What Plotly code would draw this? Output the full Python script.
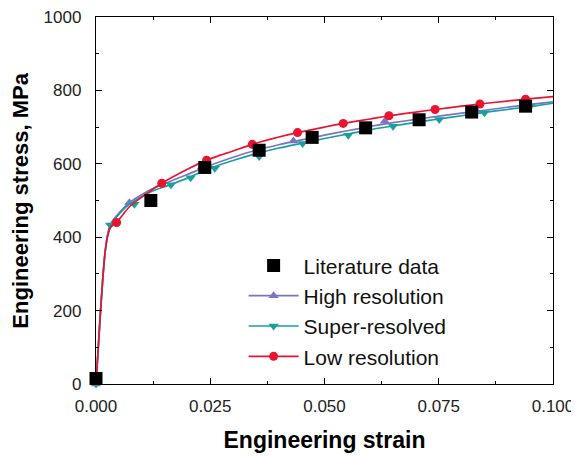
import plotly.graph_objects as go

# ---- data ----
lit_strain = [0.0, 0.012, 0.0238, 0.0357, 0.0473, 0.059, 0.0707, 0.0822, 0.094]
lit_stress = [15, 500, 590, 637, 672, 698, 720, 741, 757]

high_curve_strain = [0, 0.0005, 0.001, 0.0015, 0.002, 0.0026, 0.0032, 0.0045, 0.0073, 0.012, 0.016,
                     0.02, 0.025, 0.03, 0.035, 0.04, 0.045, 0.05, 0.055, 0.06, 0.065, 0.07, 0.075,
                     0.08, 0.085, 0.09, 0.095, 0.1]
high_curve_stress = [0, 100, 200, 290, 360, 410, 436, 458, 494, 530, 551, 571, 596, 618, 637, 652,
                     665, 678, 690, 702, 712, 721, 730, 738, 746, 754, 762, 769]
high_mark_strain = [0.0, 0.0073, 0.0232, 0.0432, 0.0632, 0.0832]
high_mark_stress = [0, 494, 592, 662, 716, 745]

super_curve_strain = high_curve_strain
super_curve_stress = [0, 100, 200, 290, 360, 410, 433, 455, 490, 524, 542, 561, 588, 609, 627, 643,
                      656, 669, 681, 693, 703, 713, 722, 731, 740, 748, 756, 765]
super_mark_strain = [0.0, 0.0031, 0.0084, 0.0164, 0.0207, 0.026, 0.0357, 0.0452, 0.0552, 0.065,
                     0.0751, 0.085, 0.095]
super_mark_stress = [0, 433, 490, 543, 562, 588, 620, 655, 678, 702, 721, 739, 756]

low_curve_strain = [0, 0.0005, 0.001, 0.0015, 0.002, 0.0026, 0.0032, 0.0045, 0.0073, 0.012, 0.0144,
                    0.02, 0.0242, 0.03, 0.0342, 0.04, 0.0441, 0.05, 0.0541, 0.06, 0.0641, 0.07,
                    0.0742, 0.08, 0.084, 0.09, 0.094, 0.1]
low_curve_stress = [0, 100, 200, 290, 360, 405, 428, 440, 483, 527, 547, 585, 610, 635, 653, 673,
                    685, 700, 710, 722, 731, 741, 748, 757, 763, 771, 776, 783]
low_mark_strain = [0.0045, 0.0144, 0.0242, 0.0342, 0.0441, 0.0541, 0.0641, 0.0742, 0.084, 0.094]
low_mark_stress = [440, 547, 610, 653, 685, 710, 731, 748, 763, 776]

x_ticks = [0.0, 0.025, 0.05, 0.075, 0.1]
y_ticks = [0, 200, 400, 600, 800, 1000]

C_HIGH = "#7b74c4"
C_SUPER = "#18a09a"
C_LOW = "#ea1330"
FONT = "Liberation Sans, Arial, sans-serif"

fig = go.Figure()

def add_series(name, cx, cy, mx, my, color, symbol, msize):
    fig.add_trace(go.Scatter(x=cx, y=cy, mode="lines", line=dict(color=color, width=1.7, shape="spline", smoothing=0.6),
                             showlegend=False, hoverinfo="skip", cliponaxis=False))
    fig.add_trace(go.Scatter(x=mx, y=my, mode="markers", marker=dict(color=color, symbol=symbol, size=msize),
                             showlegend=False, cliponaxis=False))
    fig.add_trace(go.Scatter(x=[None], y=[None], mode="lines+markers", name=name,
                             line=dict(color=color, width=1.7), marker=dict(color=color, symbol=symbol, size=msize)))

add_series("High resolution", high_curve_strain, high_curve_stress, high_mark_strain, high_mark_stress,
           C_HIGH, "triangle-up", 9)
add_series("Super-resolved", super_curve_strain, super_curve_stress, super_mark_strain, super_mark_stress,
           C_SUPER, "triangle-down", 9)
add_series("Low resolution", low_curve_strain, low_curve_stress, low_mark_strain, low_mark_stress,
           C_LOW, "circle", 9)

fig.add_trace(go.Scatter(x=lit_strain, y=lit_stress, mode="markers", name="Literature data",
                         marker=dict(color="black", symbol="square", size=13), cliponaxis=False))

fig.update_traces(legendrank=1, selector=dict(name="Literature data"))

axis_common = dict(showline=True, linecolor="black", linewidth=1.3, mirror="ticks", ticks="inside",
                   ticklen=6, tickwidth=1.2, tickcolor="black", showgrid=False, zeroline=False,
                   ticklabeloverflow="allow",
                   tickfont=dict(family=FONT, size=17, color="#222"))

fig.update_xaxes(range=[0, 0.1], tickvals=x_ticks, tickformat=".3f", ticklabelstandoff=6,
                 minor=dict(ticks="inside", ticklen=3, tickwidth=1, dtick=0.0125, tick0=0, tickcolor="black"),
                 title=dict(text="<b>Engineering strain</b>", standoff=17,
                            font=dict(family=FONT, size=23, color="black")),
                 **axis_common)
fig.update_yaxes(range=[0, 1000], tickvals=y_ticks, ticklabelstandoff=10,
                 minor=dict(ticks="inside", ticklen=3, tickwidth=1, dtick=100, tick0=0, tickcolor="black"),
                 **axis_common)

fig.add_annotation(text="<b>Engineering stress, MPa</b>", xref="paper", yref="paper",
                   x=-0.166, y=0.5, xanchor="center", yanchor="middle", textangle=-90, showarrow=False,
                   font=dict(family=FONT, size=22, color="black"))

# page body has an 8px default margin: figure is sized/placed so the plot lands where the reference has it
fig.update_layout(
    width=571, height=448,
    margin=dict(l=88, r=26, t=9, b=72, autoexpand=False),
    plot_bgcolor="white", paper_bgcolor="white",
    legend=dict(x=0.323, y=0.378, xanchor="left", yanchor="top", bgcolor="rgba(0,0,0,0)",
                font=dict(family=FONT, size=21, color="#111"),
                itemwidth=50, tracegroupgap=0),
)

fig.write_html("out.html")
